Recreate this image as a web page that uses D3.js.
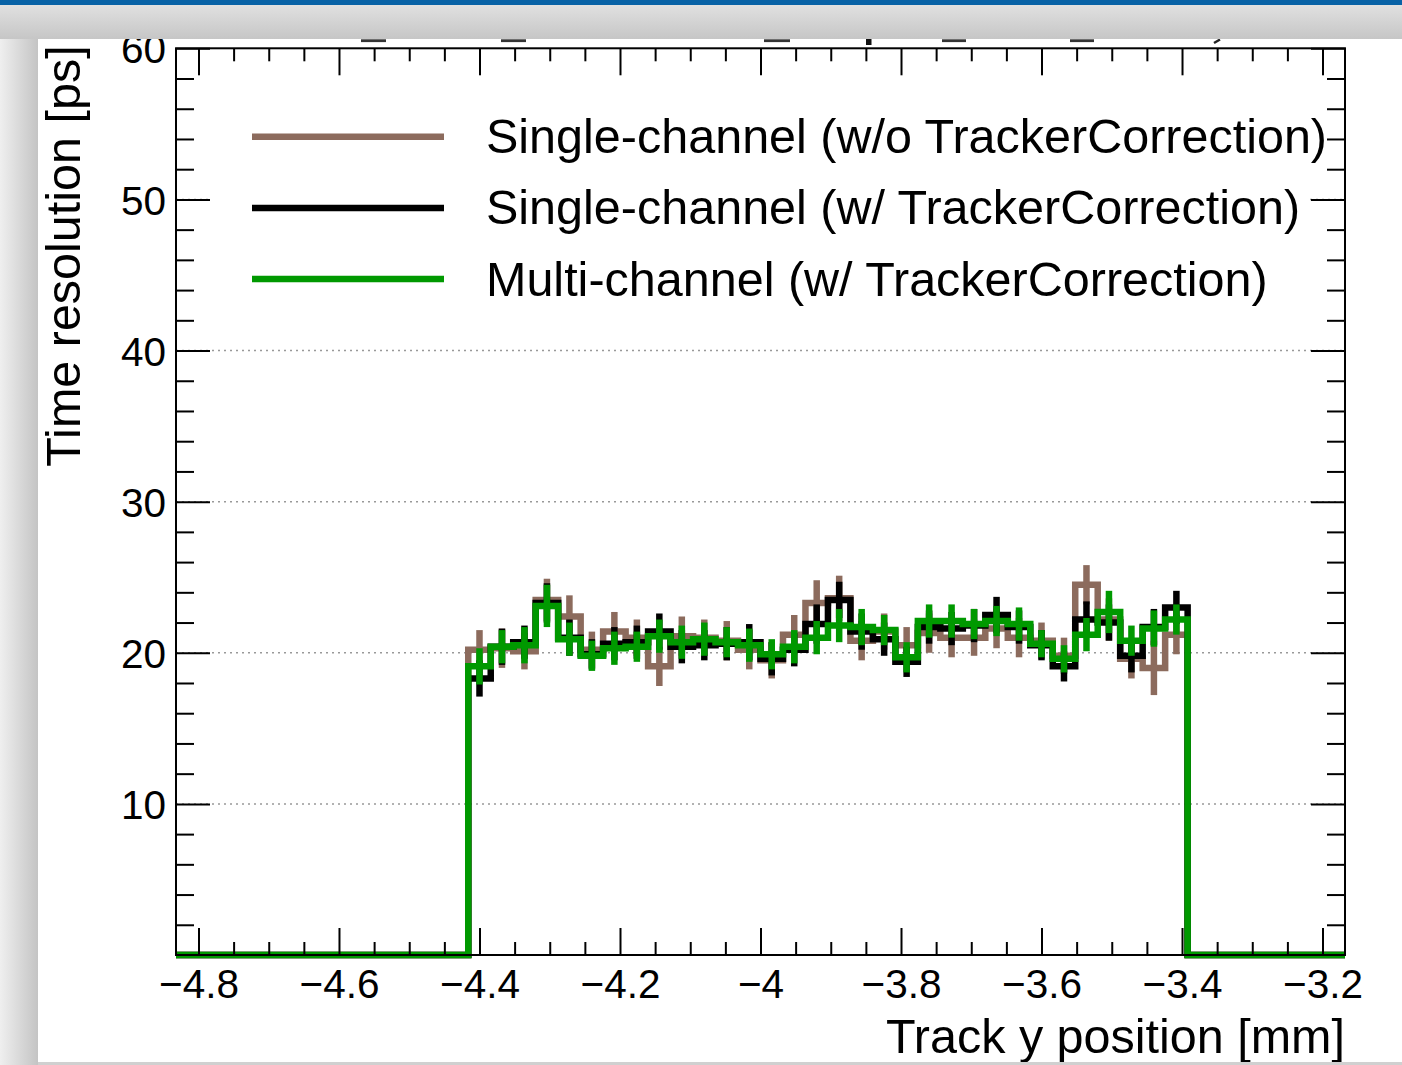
<!DOCTYPE html>
<html>
<head>
<meta charset="utf-8">
<script src="https://cdn.jsdelivr.net/npm/d3@7"></script>
<style>
body { margin: 0; background: #fff; }
svg { display: block; font-family: "Liberation Sans", Arial, Helvetica, sans-serif; }
</style>
</head>
<body>
<svg id="chart" width="1402" height="1065"></svg>
<script>
// histogram binning: 52 bins of 0.032 mm, only bins 13..44 are filled
var histRange = [-4.832, -3.168];
var binWidth = 0.032;
var firstEdge = -4.416;

var seriesNames = [
    "Single-channel (w/o TrackerCorrection)",
    "Single-channel (w/ TrackerCorrection)",
    "Multi-channel (w/ TrackerCorrection)"
];
var seriesColors = ["#8c6b5d", "#000000", "#009900"];

// time resolution [ps] per filled bin
var singleNoCorr = [20.2, 20.3, 20.1, 23.5, 22.4, 20.2, 21.4, 21.0, 19.1, 21.1, 21.0, 20.8, 20.2, 19.5, 21.2, 23.3,
                    23.6, 20.8, 21.4, 20.5, 21.3, 21.0, 21.0, 21.6, 21.0, 20.8, 19.8, 24.5, 22.2, 19.6, 19.0, 21.2];
var singleNoCorrErr = [1.3, 1.3, 1.2, 1.4, 1.4, 1.2, 1.3, 1.2, 1.3, 1.3, 1.2, 1.3, 1.3, 1.2, 1.3, 1.5,
                       1.5, 1.3, 1.2, 1.2, 1.3, 1.3, 1.2, 1.3, 1.3, 1.2, 1.2, 1.3, 1.4, 1.3, 1.8, 1.3];

var singleCorr = [18.3, 20.4, 20.7, 23.3, 21.0, 19.9, 20.6, 20.7, 21.4, 20.4, 20.5, 20.6, 20.7, 19.6, 20.2, 21.9,
                  23.5, 21.4, 20.9, 19.4, 21.7, 21.6, 21.8, 22.5, 21.7, 20.5, 19.1, 22.2, 22.0, 19.8, 21.7, 23.0];
var singleCorrErr = [1.2, 1.2, 1.1, 1.3, 1.2, 1.0, 1.1, 1.1, 1.2, 1.1, 1.0, 1.1, 1.2, 1.1, 1.1, 1.3,
                     1.2, 1.2, 1.1, 1.0, 1.1, 1.1, 1.1, 1.2, 1.1, 1.0, 1.0, 1.2, 1.2, 1.1, 1.2, 1.1];

var multiCorr = [19.1, 20.4, 20.5, 23.1, 20.9, 19.8, 20.3, 20.4, 21.1, 20.7, 20.9, 20.7, 20.5, 19.9, 20.4, 21.0,
                 21.8, 21.7, 21.5, 19.7, 22.1, 22.1, 21.9, 22.1, 21.9, 20.6, 19.6, 21.2, 22.7, 20.8, 21.6, 22.2];
var multiCorrErr = [1.2, 1.1, 1.2, 1.4, 1.1, 1.0, 1.1, 1.0, 1.1, 1.1, 1.1, 1.0, 1.1, 1.0, 1.1, 1.1,
                    1.1, 1.2, 1.0, 1.0, 1.1, 1.1, 1.0, 1.0, 1.1, 0.9, 0.9, 1.1, 1.4, 1.0, 1.2, 1.0];

var xMajorTicks = [-4.8, -4.6, -4.4, -4.2, -4, -3.8, -3.6, -3.4, -3.2];
var xMinorTicks = [-4.75, -4.7, -4.65, -4.55, -4.5, -4.45, -4.35, -4.3, -4.25, -4.15, -4.1, -4.05,
                   -3.95, -3.9, -3.85, -3.75, -3.7, -3.65, -3.55, -3.5, -3.45, -3.35, -3.3, -3.25];
var yMajorTicks = [10, 20, 30, 40, 50, 60];
var yMinorTicks = [2, 4, 6, 8, 12, 14, 16, 18, 22, 24, 26, 28, 32, 34, 36, 38, 42, 44, 46, 48, 52, 54, 56, 58];
var yGrid = [10, 20, 30, 40, 50];

var xTitle = "Track y position [mm]";
var yTitle = "Time resolution [ps]";

var series = [
    {name: seriesNames[0], color: seriesColors[0], values: singleNoCorr, errors: singleNoCorrErr},
    {name: seriesNames[1], color: seriesColors[1], values: singleCorr, errors: singleCorrErr},
    {name: seriesNames[2], color: seriesColors[2], values: multiCorr, errors: multiCorrErr}
];

var svg = d3.select("#chart");
var frame = {left: 176, right: 1345, top: 48.3, bottom: 955};
var lineW = 6.5;

var xScale = d3.scaleLinear().domain(histRange).range([frame.left, frame.right]);
var yScale = d3.scaleLinear().domain([0, 60]).range([frame.bottom, frame.top]);

svg.append("rect").attr("width", 1402).attr("height", 1065).attr("fill", "#fff");

// dotted horizontal grid
svg.append("g").selectAll("line")
    .data(yGrid)
    .enter().append("line")
        .attr("x1", frame.left).attr("x2", frame.right)
        .attr("y1", d => yScale(d)).attr("y2", d => yScale(d))
        .attr("stroke", "#999").attr("stroke-width", 1.5)
        .attr("stroke-dasharray", "2,4");

// legend box (white, no border) hides grid behind it
svg.append("rect")
    .attr("x", 212).attr("y", 100).attr("width", 1096).attr("height", 212)
    .attr("fill", "#fff");

// step histograms with error bars at bin centres
function binEdge(i) { return firstEdge + i * binWidth; }

var stepLine = d3.line().x(d => xScale(d[0])).y(d => yScale(d[1])).curve(d3.curveLinear);

series.forEach(function(s){
    var pts = [[histRange[0], 0], [binEdge(0), 0]];
    s.values.forEach(function(v, i){
        pts.push([binEdge(i), v]);
        pts.push([binEdge(i + 1), v]);
    });
    pts.push([binEdge(s.values.length), 0]);
    pts.push([histRange[1], 0]);

    var g = svg.append("g");
    g.append("path")
        .attr("d", stepLine(pts))
        .attr("fill", "none")
        .attr("stroke", s.color)
        .attr("stroke-width", lineW)
        .attr("stroke-linejoin", "miter");

    g.selectAll("line")
        .data(s.values)
        .enter().append("line")
            .attr("x1", (d, i) => xScale(binEdge(i) + binWidth / 2))
            .attr("x2", (d, i) => xScale(binEdge(i) + binWidth / 2))
            .attr("y1", (d, i) => yScale(d - s.errors[i]))
            .attr("y2", (d, i) => yScale(d + s.errors[i]))
            .attr("stroke", s.color)
            .attr("stroke-width", lineW);
});

// axes: ticks point inwards on all four sides
var fmt = d3.format("~g");
function styleAxis(g){
    g.select(".domain").remove();
    g.selectAll("line").attr("stroke", "#000").attr("stroke-width", 2);
    g.selectAll("text").attr("fill", "#000").style("font-size", "40.5px")
        .style("font-family", "'Liberation Sans', Arial, sans-serif");
}

svg.append("g").attr("transform", "translate(0," + frame.bottom + ")")
    .call(d3.axisBottom(xScale).tickValues(xMajorTicks).tickFormat(fmt).tickSize(-27).tickPadding(14))
    .call(styleAxis);
svg.append("g").attr("transform", "translate(0," + frame.bottom + ")")
    .call(d3.axisBottom(xScale).tickValues(xMinorTicks).tickFormat("").tickSize(-13))
    .call(styleAxis);
svg.append("g").attr("transform", "translate(0," + frame.top + ")")
    .call(d3.axisTop(xScale).tickValues(xMajorTicks).tickFormat("").tickSize(-27))
    .call(styleAxis);
svg.append("g").attr("transform", "translate(0," + frame.top + ")")
    .call(d3.axisTop(xScale).tickValues(xMinorTicks).tickFormat("").tickSize(-13))
    .call(styleAxis);

svg.append("g").attr("transform", "translate(" + frame.left + ",0)")
    .call(d3.axisLeft(yScale).tickValues(yMajorTicks).tickFormat(fmt).tickSize(-34).tickPadding(10))
    .call(styleAxis)
    .selectAll("text").attr("dy", "0.36em");
svg.append("g").attr("transform", "translate(" + frame.left + ",0)")
    .call(d3.axisLeft(yScale).tickValues(yMinorTicks).tickFormat("").tickSize(-18))
    .call(styleAxis);
svg.append("g").attr("transform", "translate(" + frame.right + ",0)")
    .call(d3.axisRight(yScale).tickValues(yMajorTicks).tickFormat("").tickSize(-34))
    .call(styleAxis);
svg.append("g").attr("transform", "translate(" + frame.right + ",0)")
    .call(d3.axisRight(yScale).tickValues(yMinorTicks).tickFormat("").tickSize(-18))
    .call(styleAxis);

svg.append("rect")
    .attr("x", frame.left).attr("y", frame.top)
    .attr("width", frame.right - frame.left).attr("height", frame.bottom - frame.top)
    .attr("fill", "none").attr("stroke", "#000").attr("stroke-width", 2);

// axis titles
svg.append("text")
    .attr("x", frame.right).attr("y", 1053)
    .attr("text-anchor", "end")
    .style("font-size", "48.5px")
    .text(xTitle);

svg.append("text")
    .attr("transform", "translate(80," + (frame.top - 3) + ") rotate(-90)")
    .attr("text-anchor", "end")
    .style("font-size", "48.5px")
    .text(yTitle);

// legend
var legend = svg.append("g").selectAll("g")
    .data(series)
    .enter().append("g")
        .attr("transform", (d, i) => "translate(0," + (136.7 + i * 71.2) + ")");
legend.append("line")
    .attr("x1", 252).attr("x2", 444)
    .attr("stroke", d => d.color).attr("stroke-width", lineW);
legend.append("text")
    .attr("x", 486).attr("y", 16.5)
    .style("font-size", "48.5px")
    .text(d => d.name);

// bottom bits of the cut-off plot title peeking out under the slide header
var titleBits = [[361, 25], [501, 25], [764, 26], [942, 24], [1070, 24]];
svg.append("g").selectAll("rect")
    .data(titleBits)
    .enter().append("rect")
        .attr("x", d => d[0]).attr("y", 39.3)
        .attr("width", d => d[1]).attr("height", 2.8)
        .attr("fill", "#333");
svg.append("rect").attr("x", 866).attr("y", 39).attr("width", 5.5).attr("height", 6).attr("fill", "#111");
svg.append("line").attr("x1", 1214).attr("y1", 43).attr("x2", 1220).attr("y2", 39.5)
    .attr("stroke", "#222").attr("stroke-width", 2.5);

// slide frame around the plot image
var defs = svg.append("defs");
var gTop = defs.append("linearGradient").attr("id", "shTop").attr("x1", 0).attr("y1", 0).attr("x2", 0).attr("y2", 1);
gTop.append("stop").attr("offset", "0%").attr("stop-color", "#e4e4e4");
gTop.append("stop").attr("offset", "100%").attr("stop-color", "#c6c6c6");
var gLeft = defs.append("linearGradient").attr("id", "shLeft").attr("x1", 0).attr("y1", 0).attr("x2", 1).attr("y2", 0);
gLeft.append("stop").attr("offset", "0%").attr("stop-color", "#efefef");
gLeft.append("stop").attr("offset", "100%").attr("stop-color", "#c4c4c4");

svg.append("rect").attr("x", 0).attr("y", 0).attr("width", 38).attr("height", 1065).attr("fill", "url(#shLeft)");
svg.append("rect").attr("x", 0).attr("y", 0).attr("width", 1402).attr("height", 39).attr("fill", "url(#shTop)");
svg.append("rect").attr("x", 38).attr("y", 1062).attr("width", 1364).attr("height", 3).attr("fill", "#d0d0d0");
svg.append("rect").attr("x", 0).attr("y", 0).attr("width", 1402).attr("height", 5).attr("fill", "#0862a6");
</script>
</body>
</html>
